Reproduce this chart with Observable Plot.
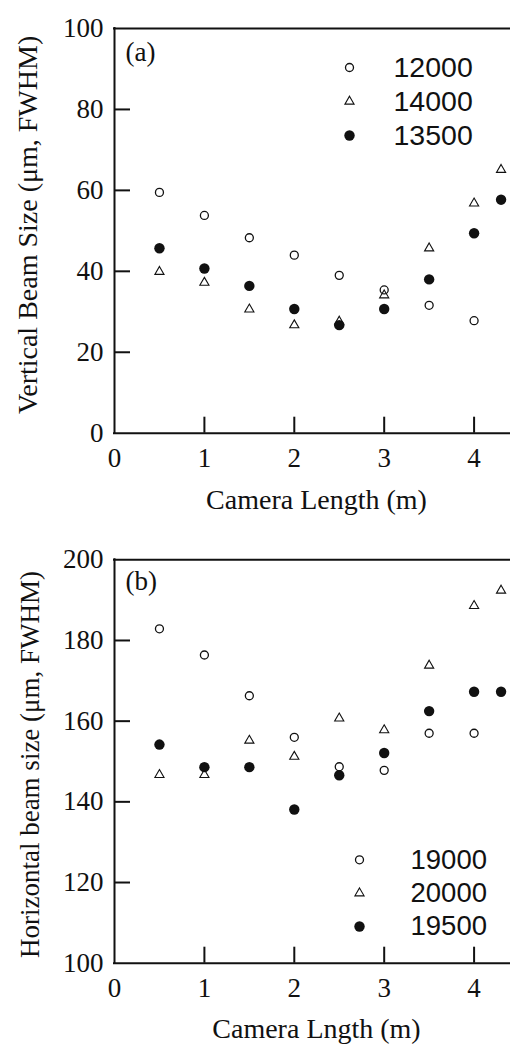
<!DOCTYPE html>
<html>
<head>
<meta charset="utf-8">
<script src="https://cdn.jsdelivr.net/npm/d3@7"></script>
<script src="https://cdn.jsdelivr.net/npm/@observablehq/plot@0.6"></script>
<style>
  html, body { margin: 0; padding: 0; background: #fff; }
  #chart { width: 510px; }
  #chart svg { display: block; }
</style>
</head>
<body>
<div id="chart"></div>
<script>
// ---------- data ----------
const xTicks = [0, 1, 2, 3, 4];
const aYTicks = [0, 20, 40, 60, 80, 100];
const bYTicks = [100, 120, 140, 160, 180, 200];

// Panel (a): vertical beam size
const aLength8 = [0.5, 1, 1.5, 2, 2.5, 3, 3.5, 4];
const aLength9 = [0.5, 1, 1.5, 2, 2.5, 3, 3.5, 4, 4.3];
const a12000 = [59.5, 53.8, 48.3, 44.0, 39.0, 35.4, 31.6, 27.8];
const a14000 = [39.9, 37.2, 30.6, 26.7, 27.6, 34.1, 45.7, 56.8, 65.1];
const a13500 = [45.7, 40.7, 36.4, 30.7, 26.7, 30.7, 38.0, 49.4, 57.7];
const aLegend = ["12000", "14000", "13500"];

// Panel (b): horizontal beam size
const bLength8 = [0.5, 1, 1.5, 2, 2.5, 3, 3.5, 4];
const bLength9 = [0.5, 1, 1.5, 2, 2.5, 3, 3.5, 4, 4.3];
const b19000 = [182.9, 176.4, 166.3, 156.0, 148.7, 147.8, 157.0, 157.0];
const b20000 = [146.7, 146.7, 155.2, 151.2, 160.7, 157.8, 173.8, 188.6, 192.4];
const b19500 = [154.2, 148.6, 148.6, 138.1, 146.6, 152.1, 162.5, 167.3, 167.3];
const bLegend = ["19000", "20000", "19500"];

const symbols = [
  {symbol: "circle", r: 4, fill: "none", stroke: "#111", strokeWidth: 1.3},
  {symbol: "triangle", r: 3.4, fill: "none", stroke: "#111", strokeWidth: 1.1},
  {symbol: "circle", r: 5.2, fill: "#111", stroke: "none"}
];

const serif = "'Liberation Serif', 'Times New Roman', serif";
const sans = "'Liberation Sans', Arial, sans-serif";

const W = 510, H = 522, ML = 114, TICK = 16;

function pts(xs, ys) { return xs.map((x, i) => ({x, y: ys[i]})); }

function panel(o) {
  const xDomain = [0, 4.405];
  const frameW = W - ML;
  const frameH = H - o.marginTop - o.marginBottom;
  const marks = [];
  // axis lines (left, bottom, top)
  marks.push(Plot.ruleX([xDomain[0]], {stroke: "#111", strokeWidth: 2, strokeLinecap: "square"}));
  marks.push(Plot.ruleY([o.yDomain[0], o.yDomain[1]], {stroke: "#111", strokeWidth: 2, strokeLinecap: "square"}));
  // inward tick marks
  marks.push(Plot.tickX(xTicks.filter(t => t > xDomain[0]), {x: d => d, insetTop: frameH - TICK, stroke: "#111", strokeWidth: 2}));
  marks.push(Plot.tickY(o.yTicks.slice(1, -1), {y: d => d, insetRight: frameW - TICK, stroke: "#111", strokeWidth: 2}));
  // tick labels
  marks.push(Plot.axisX(xTicks, {tickSize: 0, tickPadding: 15, fontSize: 27, fontFamily: serif, fill: "#111", label: null}));
  marks.push(Plot.axisY(o.yTicks, {tickSize: 0, tickPadding: 11, fontSize: 27, fontFamily: serif, fill: "#111", label: null}));
  // data
  o.series.forEach((s, i) => {
    marks.push(Plot.dot(pts(s.x, s.y), {x: "x", y: "y", ...symbols[i]}));
  });
  // legend
  o.legend.forEach((lab, i) => {
    marks.push(Plot.dot([lab], {frameAnchor: "top-left", dx: o.legendDx, dy: o.legendDys[i], ...symbols[i]}));
    marks.push(Plot.text([lab], {frameAnchor: "top-left", dx: o.legendTextDx, dy: o.legendDys[i], text: d => d, textAnchor: "start", lineAnchor: "middle", fontSize: o.legendFont, fontFamily: sans, fill: "#111"}));
  });
  // panel tag
  marks.push(Plot.text([o.tag], {frameAnchor: "top-left", dx: 11, dy: o.tagDy, text: d => d, textAnchor: "start", lineAnchor: "middle", fontSize: 27, fontFamily: serif, fill: "#111"}));
  // axis titles
  marks.push(Plot.text([o.xlabel], {frameAnchor: "bottom", dx: 4, dy: o.xTitleDy, text: d => d, textAnchor: "middle", lineAnchor: "middle", fontSize: 28, fontFamily: serif, fill: "#111"}));
  marks.push(Plot.text([o.ylabel], {frameAnchor: "left", dx: o.yTitleDx, dy: o.yTitleDy, rotate: -90, text: d => d, textAnchor: "middle", lineAnchor: "middle", fontSize: o.yTitleFont, fontFamily: serif, fill: "#111"}));

  return Plot.plot({
    width: W,
    height: H,
    marginLeft: ML,
    marginRight: 0,
    marginTop: o.marginTop,
    marginBottom: o.marginBottom,
    x: {domain: xDomain, axis: null},
    y: {domain: o.yDomain, axis: null},
    style: {background: "#fff", overflow: "visible"},
    marks
  });
}

const chart = document.getElementById("chart");
chart.appendChild(panel({
  yDomain: [0, 100],
  yTicks: aYTicks,
  marginTop: 28,
  marginBottom: 89.3,
  series: [{x: aLength8, y: a12000}, {x: aLength9, y: a14000}, {x: aLength9, y: a13500}],
  legend: aLegend,
  legendDx: 235, legendTextDx: 279, legendDys: [39, 73, 107], legendFont: 28.5,
  tag: "(a)", tagDy: 24,
  xlabel: "Camera Length (m)", xTitleDy: 67,
  ylabel: "Vertical Beam Size (μm, FWHM)", yTitleDx: -86, yTitleDy: -6, yTitleFont: 28
}));
chart.appendChild(panel({
  yDomain: [100, 200],
  yTicks: bYTicks,
  marginTop: 37.3,
  marginBottom: 81.3,
  series: [{x: bLength8, y: b19000}, {x: bLength9, y: b20000}, {x: bLength9, y: b19500}],
  legend: bLegend,
  legendDx: 245, legendTextDx: 296, legendDys: [300, 333.4, 366.7], legendFont: 27.5,
  tag: "(b)", tagDy: 22,
  xlabel: "Camera Lngth (m)", xTitleDy: 66,
  ylabel: "Horizontal beam size (μm, FWHM)", yTitleDx: -84, yTitleDy: 3, yTitleFont: 27
}));
</script>
</body>
</html>
